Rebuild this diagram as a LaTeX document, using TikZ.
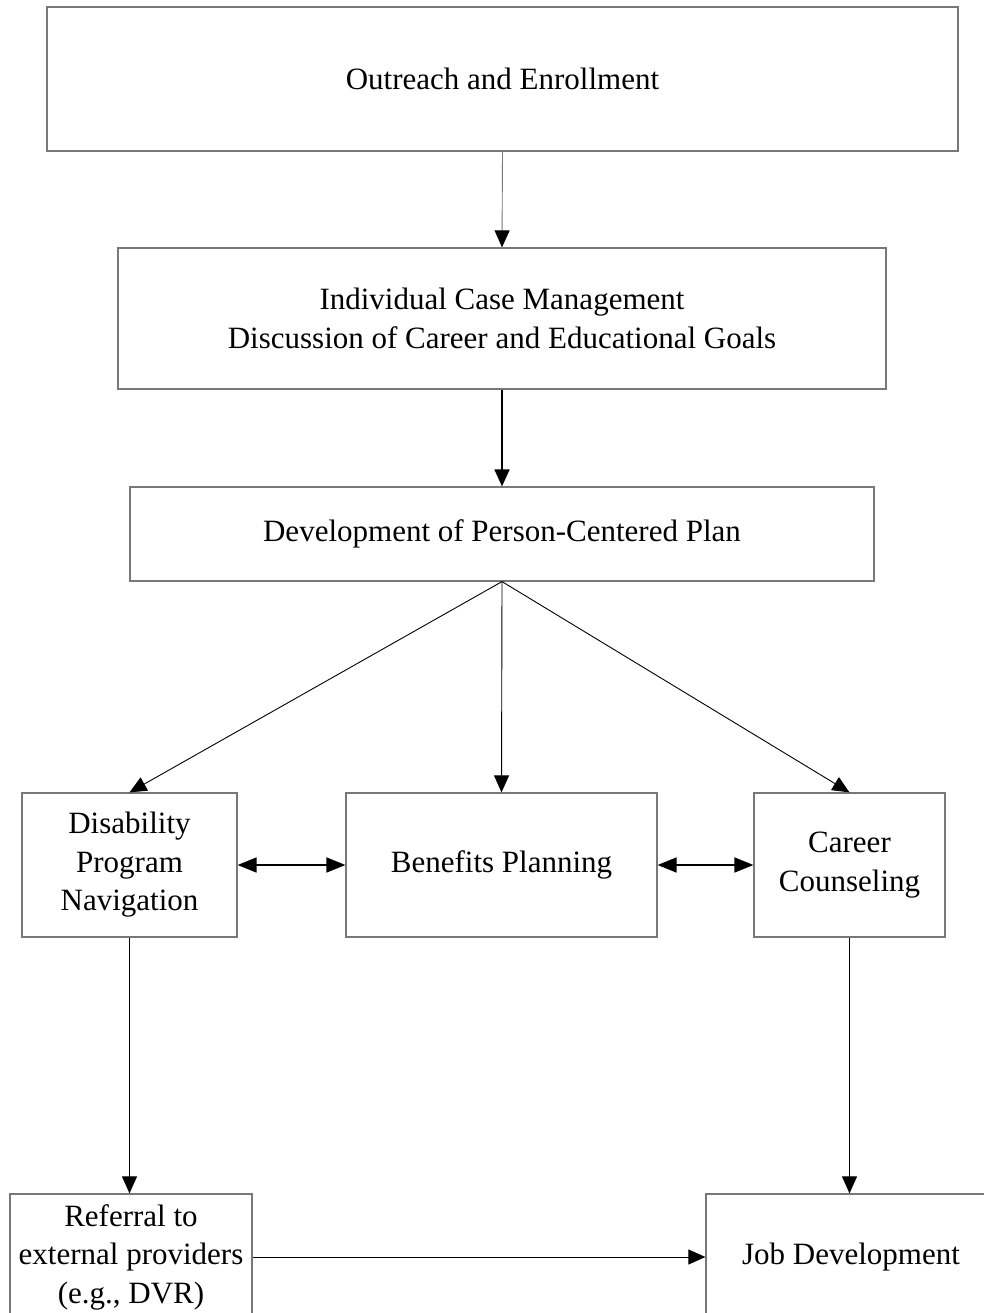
\documentclass[tikz,border=0pt]{standalone}
\usepackage{fontspec}
\setmainfont{Liberation Serif}
\usetikzlibrary{arrows.meta}
\definecolor{boxgray}{RGB}{120,120,120}
\tikzset{
  box/.style={draw=boxgray, line width=1.2pt, align=center, inner sep=0pt,
    font=\fontsize{31}{38.5}\selectfont},
  conn/.style={line width=0.9pt, -{Triangle[length=17pt,width=15pt,color=black]}},
  dconn/.style={line width=1.6pt, {Triangle[length=19pt,width=15pt]}-{Triangle[length=19pt,width=15pt]}}
}
\begin{document}
\begin{tikzpicture}[x=1pt,y=-1pt]
\useasboundingbox (0,0) rectangle (984,1313);
\clip (0,0) rectangle (984,1313);
\node[box, minimum width=911pt, minimum height=144pt] (o) at (502.5,79) {Outreach and Enrollment};
\node[box, minimum width=768pt, minimum height=141pt] (i) at (502,318.5) {Individual Case Management\\Discussion of Career and Educational Goals};
\node[box, minimum width=744pt, minimum height=94pt] (d) at (502,534) {Development of Person-Centered Plan};
\node[box, minimum width=215pt, minimum height=144pt] (dpn) at (129.5,865) {Disability\\Program\\Navigation};
\node[box, minimum width=311pt, minimum height=144pt] (bp) at (501.5,865) {Benefits Planning};
\node[box, minimum width=191pt, minimum height=144pt] (cc) at (849.5,865) {Career\\Counseling};
\node[box, minimum width=242pt, minimum height=126pt] (ref) at (131,1257) {Referral to\\external providers\\(e.g., DVR)};
\node[box, minimum width=290pt, minimum height=126pt] (job) at (851,1257) {Job Development};
\draw[conn, draw=boxgray] (o.south) -- (i.north);
\draw[conn, line width=1.8pt] (i.south) -- (d.north);
\draw[conn] (d.south) -- (dpn.north);
\draw[conn] (d.south) -- (bp.north);
\draw[conn] (d.south) -- (cc.north);
\draw[dconn] (dpn.east) -- (bp.west);
\draw[dconn] (bp.east) -- (cc.west);
\draw[conn] (dpn.south) -- (dpn.south |- ref.north);
\draw[conn] (cc.south) -- (cc.south |- job.north);
\draw[conn] (ref.east) -- (job.west);
\end{tikzpicture}
\end{document}
